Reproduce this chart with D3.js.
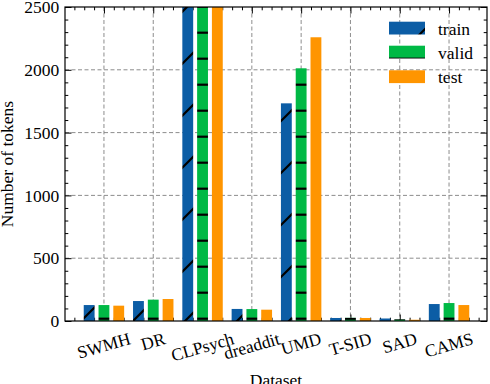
<!DOCTYPE html>
<html>
<head>
<meta charset="utf-8">
<script src="https://cdn.jsdelivr.net/npm/d3@7"></script>
<style>
  body { margin: 0; background: #ffffff; }
  svg text { font-family: "Liberation Serif", "Times New Roman", serif; }
</style>
</head>
<body>
<div id="chart"></div>
<script>
// data (CLPsych runs past the top of the axis)
var datasets = ["SWMH", "DR", "CLPsych", "dreaddit", "UMD", "T-SID", "SAD", "CAMS"];
var trainTokens = [127, 159, 3400, 96, 1733, 24, 20, 135];
var validTokens = [127, 170, 3400, 95, 2012, 26, 14, 143];
var testTokens = [122, 175, 3400, 90, 2259, 24, 10, 127];
var splits = ["train", "valid", "test"];
var yTicks = [0, 500, 1000, 1500, 2000, 2500];

var svgWidth = 490;
var svgHeight = 384;

// plot box in page pixels
var box = { left: 65, right: 487, top: 7, bottom: 321 };
var fontSize = 17.5;

var colors = { train: "#0C5DA5", valid: "#00B945", test: "#FF9500" };

var svg = d3.select("#chart")
    .append("svg")
    .attr("width", svgWidth)
    .attr("height", svgHeight)
    .attr("font-family", "Liberation Serif");

var x = d3.scaleLinear()
    .domain([-0.79, 7.77])
    .range([box.left, box.right]);

var y = d3.scaleLinear()
    .domain([0, 2500])
    .range([box.bottom, box.top]);

// hatch patterns, anchored to the page like matplotlib
var defs = svg.append("defs");

var diag = defs.append("pattern")
    .attr("id", "hatch-train")
    .attr("patternUnits", "userSpaceOnUse")
    .attr("width", 52)
    .attr("height", 52);
diag.append("rect").attr("width", 52).attr("height", 52).attr("fill", colors.train);
diag.append("line").attr("x1", -3).attr("y1", 41).attr("x2", 41).attr("y2", -3)
    .attr("stroke", "#000").attr("stroke-width", 2.2);
diag.append("line").attr("x1", 35).attr("y1", 55).attr("x2", 55).attr("y2", 35)
    .attr("stroke", "#000").attr("stroke-width", 2.2);

var horiz = defs.append("pattern")
    .attr("id", "hatch-valid")
    .attr("patternUnits", "userSpaceOnUse")
    .attr("width", 20)
    .attr("height", 26);
horiz.append("rect").attr("width", 20).attr("height", 26).attr("fill", colors.valid);
horiz.append("rect").attr("x", 0).attr("y", 5.6).attr("width", 20).attr("height", 2.2)
    .attr("fill", "#000");

var fills = { train: "url(#hatch-train)", valid: "url(#hatch-valid)", test: colors.test };

defs.append("clipPath")
    .attr("id", "plot-clip")
    .append("rect")
    .attr("x", box.left)
    .attr("y", box.top)
    .attr("width", box.right - box.left)
    .attr("height", box.bottom - box.top);

// grid
var grid = svg.append("g")
    .attr("stroke", "#808080")
    .attr("stroke-width", 0.9)
    .attr("stroke-dasharray", "4,2.5");

grid.selectAll(".vgrid")
    .data(d3.range(datasets.length))
    .enter()
    .append("line")
    .attr("x1", d => x(d))
    .attr("x2", d => x(d))
    .attr("y1", box.top)
    .attr("y2", box.bottom);

grid.selectAll(".hgrid")
    .data(yTicks.slice(1, -1))
    .enter()
    .append("line")
    .attr("x1", box.left)
    .attr("x2", box.right)
    .attr("y1", d => y(d))
    .attr("y2", d => y(d));

// ticks pointing inwards on all four sides
var majorLen = 6.5;
var minorLen = 3.3;
var xMinor = d3.range(-3, 39).map(d => d * 0.2).filter(d => d > -0.79 && d < 7.77 && Math.abs(d - Math.round(d)) > 0.01);
var yMinor = d3.range(0, 2501, 100).filter(d => d % 500 != 0);

function styleAxis(g) {
    g.select(".domain").remove();
    g.attr("font-family", "Liberation Serif");
    g.selectAll("line").attr("stroke", "#000").attr("stroke-width", 1);
}

svg.append("g")
    .attr("transform", `translate(${box.left},0)`)
    .call(d3.axisLeft(y).tickValues(yTicks).tickSize(-majorLen).tickPadding(5.7).tickFormat(d3.format("d")))
    .call(styleAxis)
    .call(g => g.selectAll("text")
        .attr("font-size", fontSize)
        .attr("fill", "#000"));

svg.append("g")
    .attr("transform", `translate(${box.left},0)`)
    .call(d3.axisLeft(y).tickValues(yMinor).tickSize(-minorLen).tickFormat(""))
    .call(styleAxis);

svg.append("g")
    .attr("transform", `translate(${box.right},0)`)
    .call(d3.axisRight(y).tickValues(yTicks).tickSize(-majorLen).tickFormat(""))
    .call(styleAxis);

svg.append("g")
    .attr("transform", `translate(${box.right},0)`)
    .call(d3.axisRight(y).tickValues(yMinor).tickSize(-minorLen).tickFormat(""))
    .call(styleAxis);

svg.append("g")
    .attr("transform", `translate(0,${box.bottom})`)
    .call(d3.axisBottom(x).tickValues(d3.range(datasets.length)).tickSize(-majorLen).tickFormat(""))
    .call(styleAxis);

svg.append("g")
    .attr("transform", `translate(0,${box.bottom})`)
    .call(d3.axisBottom(x).tickValues(xMinor).tickSize(-minorLen).tickFormat(""))
    .call(styleAxis);

svg.append("g")
    .attr("transform", `translate(0,${box.top})`)
    .call(d3.axisTop(x).tickValues(d3.range(datasets.length)).tickSize(-majorLen).tickFormat(""))
    .call(styleAxis);

svg.append("g")
    .attr("transform", `translate(0,${box.top})`)
    .call(d3.axisTop(x).tickValues(xMinor).tickSize(-minorLen).tickFormat(""))
    .call(styleAxis);

// bars
var barWidth = 0.22;
var offsets = { train: -0.3, valid: 0, test: 0.3 };
var values = { train: trainTokens, valid: validTokens, test: testTokens };

var bars = svg.append("g").attr("clip-path", "url(#plot-clip)");

splits.forEach(function (s) {
    bars.append("g")
        .selectAll("rect")
        .data(values[s])
        .enter()
        .append("rect")
        .attr("x", (d, i) => x(i + offsets[s] - barWidth / 2))
        .attr("width", (d, i) => x(i + offsets[s] + barWidth / 2) - x(i + offsets[s] - barWidth / 2))
        .attr("y", d => y(d))
        .attr("height", d => y(0) - y(d))
        .attr("fill", fills[s]);
});

// frame
svg.append("rect")
    .attr("x", box.left)
    .attr("y", box.top)
    .attr("width", box.right - box.left)
    .attr("height", box.bottom - box.top)
    .attr("fill", "none")
    .attr("stroke", "#000")
    .attr("stroke-width", 1.2);

// rotated category labels, centred under each tick
var angle = 16;
var rad = angle * Math.PI / 180;
var labelTop = 330;

svg.append("g")
    .selectAll("text")
    .data(datasets)
    .enter()
    .append("text")
    .attr("font-size", fontSize)
    .attr("text-anchor", "middle")
    .attr("dy", "0.32em")
    .text(d => d)
    .each(function (d, i) {
        var w = this.getComputedTextLength();
        var cy = labelTop + (w / 2) * Math.sin(rad) + (fontSize / 2) * Math.cos(rad);
        d3.select(this).attr("transform", `translate(${x(i)},${cy}) rotate(${-angle})`);
    });

// axis titles
svg.append("text")
    .attr("x", (box.left + box.right) / 2)
    .attr("y", 386)
    .attr("text-anchor", "middle")
    .attr("font-size", fontSize)
    .text("Dataset");

svg.append("text")
    .attr("transform", `translate(12.5,${(box.top + box.bottom) / 2}) rotate(-90)`)
    .attr("text-anchor", "middle")
    .attr("font-size", fontSize)
    .text("Number of tokens");

// legend
var legend = svg.append("g");
var rowY = [21.7, 45.7, 70.3];

splits.forEach(function (s, i) {
    legend.append("rect")
        .attr("x", 389)
        .attr("y", rowY[i])
        .attr("width", 36)
        .attr("height", 12.8)
        .attr("fill", fills[s]);
    legend.append("text")
        .attr("x", 438)
        .attr("y", rowY[i] + 12.8)
        .attr("font-size", fontSize)
        .text(s);
});
</script>
</body>
</html>
